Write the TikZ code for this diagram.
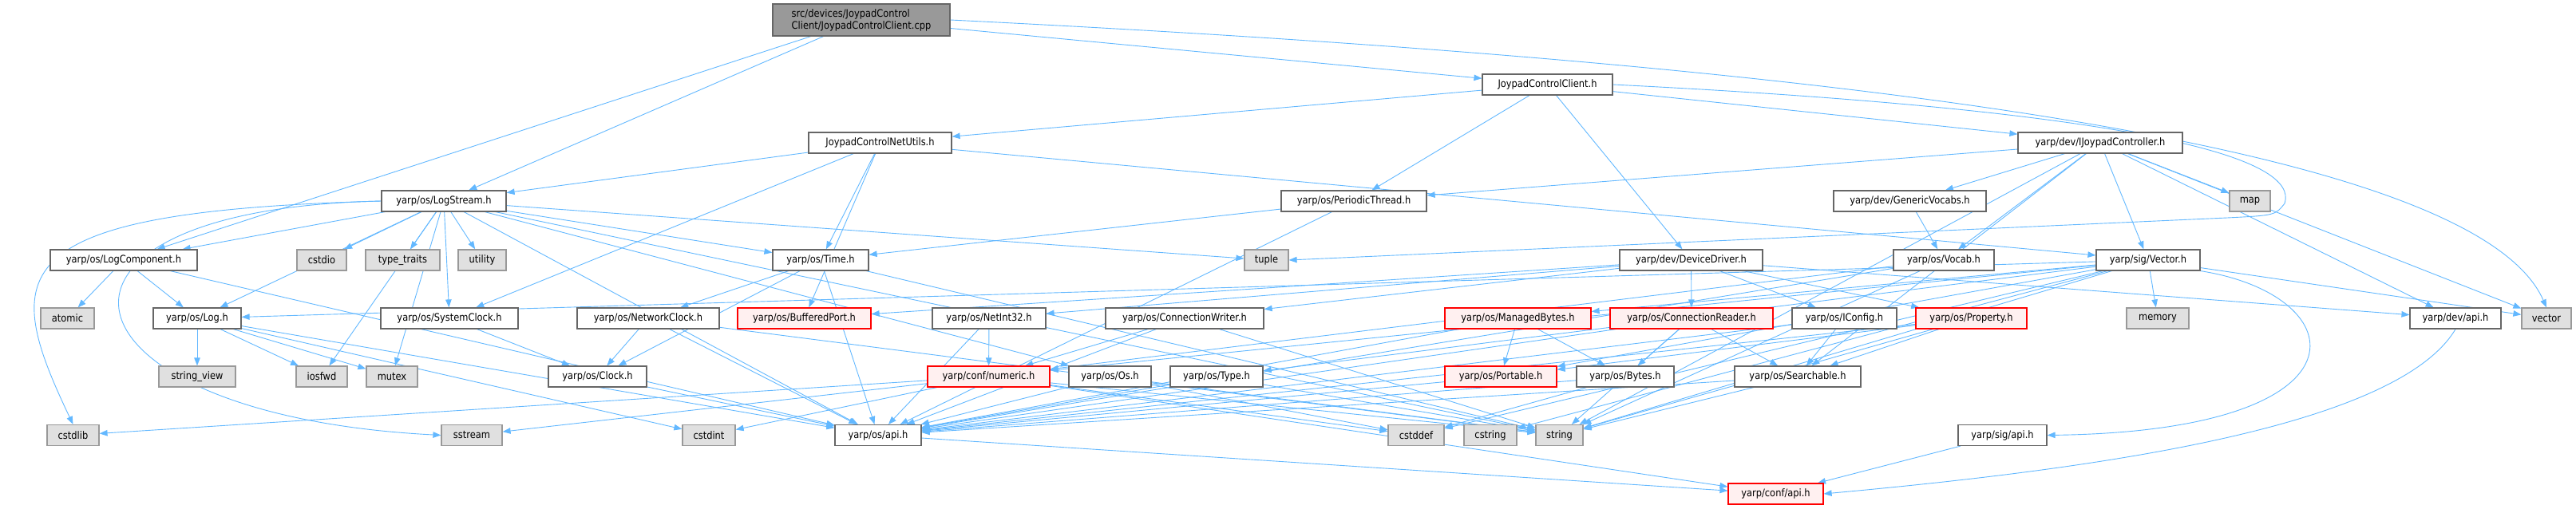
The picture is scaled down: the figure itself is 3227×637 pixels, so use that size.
\documentclass[tikz,border=0pt]{standalone}
\usepackage{fontspec}
\setmainfont{DejaVu Sans}[FakeStretch=0.88]
\usetikzlibrary{arrows.meta}
\definecolor{edgeblue}{HTML}{63B8FF}
\definecolor{boxline}{HTML}{666666}
\definecolor{sysfill}{HTML}{E0E0E0}
\definecolor{sysline}{HTML}{999999}
\definecolor{truncfill}{HTML}{FFF0F0}
\definecolor{rootfill}{HTML}{999999}
\pgfdeclarelayer{edges}
\pgfsetlayers{edges,main}

\tikzset{
  hdr/.style={draw=boxline, fill=white, line width=1.2pt, minimum height=26, inner sep=0pt,
    font=\fontsize{13}{15}\selectfont},
  sys/.style={hdr, draw=sysline, fill=sysfill},
  trunc/.style={hdr, draw=red, fill=truncfill},
  dep/.style={draw=edgeblue, line width=0.9pt, -{Triangle[length=10pt,width=7.5pt]}},
}

\begin{document}
\begin{tikzpicture}[x=1pt, y=-1pt]
  \useasboundingbox (0,0) rectangle (3227,637);

  % rows 1-4
  \node[hdr, fill=rootfill, minimum width=222, minimum height=40, align=left] (root) at (1079,25)
    {src/devices/JoypadControl\\Client/JoypadControlClient.cpp};
  \node[hdr, minimum width=163] (jcc) at (1938.5,106) {JoypadControlClient.h};
  \node[hdr, minimum width=179] (netutils) at (1102.5,179) {JoypadControlNetUtils.h};
  \node[hdr, minimum width=206] (ijoy) at (2631,179) {yarp/dev/IJoypadController.h};
  \node[hdr, minimum width=156] (logstream) at (556,252) {yarp/os/LogStream.h};
  \node[hdr, minimum width=182] (periodic) at (1696,252) {yarp/os/PeriodicThread.h};
  \node[hdr, minimum width=191] (genvocabs) at (2392.5,252) {yarp/dev/GenericVocabs.h};
  \node[sys, minimum width=51] (map) at (2818.5,252) {map};

  % row 5
  \node[hdr, minimum width=184] (logcomp) at (155,326) {yarp/os/LogComponent.h};
  \node[sys, minimum width=62] (cstdio) at (403,326) {cstdio};
  \node[sys, minimum width=93] (typetraits) at (504.5,326) {type\_traits};
  \node[sys, minimum width=60] (utility) at (604,326) {utility};
  \node[hdr, minimum width=120] (time) at (1028,326) {yarp/os/Time.h};
  \node[sys, minimum width=55] (tuple) at (1586.5,326) {tuple};
  \node[hdr, minimum width=179] (devdriver) at (2118.5,326) {yarp/dev/DeviceDriver.h};
  \node[hdr, minimum width=126] (vocab) at (2435,326) {yarp/os/Vocab.h};
  \node[hdr, minimum width=130] (sigvector) at (2691,326) {yarp/sig/Vector.h};

  % row 6
  \node[sys, minimum width=67] (atomic) at (84.5,399) {atomic};
  \node[hdr, minimum width=110] (log) at (247,399) {yarp/os/Log.h};
  \node[hdr, minimum width=172] (sysclock) at (563,399) {yarp/os/SystemClock.h};
  \node[hdr, minimum width=178] (netclock) at (812,399) {yarp/os/NetworkClock.h};
  \node[trunc, minimum width=167] (bufport) at (1007.5,399) {yarp/os/BufferedPort.h};
  \node[hdr, minimum width=142] (netint) at (1239,399) {yarp/os/NetInt32.h};
  \node[hdr, minimum width=198] (connwriter) at (1484,399) {yarp/os/ConnectionWriter.h};
  \node[trunc, minimum width=183] (managed) at (1901.5,399) {yarp/os/ManagedBytes.h};
  \node[trunc, minimum width=204] (connreader) at (2119,399) {yarp/os/ConnectionReader.h};
  \node[hdr, minimum width=131] (iconfig) at (2310.5,399) {yarp/os/IConfig.h};
  \node[trunc, minimum width=139] (property) at (2469.5,399) {yarp/os/Property.h};
  \node[sys, minimum width=78] (memory) at (2703,399) {memory};
  \node[hdr, minimum width=114] (devapi) at (3076,399) {yarp/dev/api.h};
  \node[sys, minimum width=62] (vector) at (3190,399) {vector};

  % row 7
  \node[sys, minimum width=96] (stringview) at (247,472) {string\_view};
  \node[sys, minimum width=64] (iosfwd) at (403,472) {iosfwd};
  \node[sys, minimum width=64] (mutex) at (491,472) {mutex};
  \node[hdr, minimum width=123] (clock) at (748.5,472) {yarp/os/Clock.h};
  \node[trunc, minimum width=153] (numeric) at (1238.5,472) {yarp/conf/numeric.h};
  \node[hdr, minimum width=103] (os) at (1390.5,472) {yarp/os/Os.h};
  \node[hdr, minimum width=116] (type) at (1524,472) {yarp/os/Type.h};
  \node[trunc, minimum width=140] (portable) at (1880,472) {yarp/os/Portable.h};
  \node[hdr, minimum width=122] (bytes) at (2036,472) {yarp/os/Bytes.h};
  \node[hdr, minimum width=158] (searchable) at (2252,472) {yarp/os/Searchable.h};

  % rows 8-9
  \node[sys, minimum width=65] (cstdlib) at (91.5,545.5) {cstdlib};
  \node[sys, minimum width=76] (sstream) at (591,545.5) {sstream};
  \node[sys, minimum width=66] (cstdint) at (888,545.5) {cstdint};
  \node[hdr, minimum width=108] (osapi) at (1100,545.5) {yarp/os/api.h};
  \node[sys, minimum width=70] (cstddef) at (1774,545.5) {cstddef};
  \node[sys, minimum width=66] (cstring) at (1867,545.5) {cstring};
  \node[sys, minimum width=59] (string) at (1953.5,545.5) {string};
  \node[hdr, minimum width=111] (sigapi) at (2508.5,545.5) {yarp/sig/api.h};
  \node[trunc, minimum width=119] (confapi) at (2224.5,619) {yarp/conf/api.h};

  % include edges, kept under the boxes
  \begin{pgfonlayer}{edges}
  \foreach \a/\b in {root/jcc, root/logstream, root/logcomp,
      jcc/netutils, jcc/periodic, jcc/devdriver, jcc/ijoy,
      netutils/logstream, netutils/sysclock, netutils/time, netutils/bufport, netutils/sigvector,
      ijoy/periodic, ijoy/genvocabs, ijoy/vocab, ijoy/sigvector, ijoy/map, ijoy/devapi,
      ijoy/vector, ijoy/string, ijoy/searchable, genvocabs/vocab,
      logstream/logcomp, logstream/log, logstream/cstdio, logstream/typetraits, logstream/utility,
      logstream/iosfwd, logstream/mutex, logstream/sysclock, logstream/time, logstream/os,
      logstream/tuple, logstream/string, logstream/osapi,
      periodic/time, periodic/osapi,
      logcomp/atomic, logcomp/log, logcomp/osapi,
      log/stringview, log/iosfwd, log/mutex, log/osapi, log/cstdint,
      time/netclock, time/clock, time/osapi, time/string,
      sysclock/clock, netclock/clock, netclock/osapi, netclock/string, clock/osapi,
      netint/numeric, netint/osapi, connwriter/numeric, connwriter/osapi, connwriter/string,
      numeric/confapi, numeric/cstdint, numeric/cstdlib, numeric/sstream, numeric/cstddef, numeric/string,
      os/osapi, os/string, os/cstddef, type/osapi, type/string,
      managed/portable, managed/bytes, managed/osapi,
      connreader/bytes, connreader/searchable, connreader/string, connreader/osapi,
      devdriver/connreader, devdriver/iconfig, devdriver/property, devdriver/devapi,
      devdriver/netint, devdriver/connwriter, devdriver/bufport,
      iconfig/searchable, iconfig/osapi,
      property/portable, property/searchable, property/string, property/osapi,
      portable/osapi, bytes/osapi, bytes/cstddef, searchable/osapi, searchable/string,
      vocab/numeric, vocab/osapi, vocab/string,
      sigvector/log, sigvector/managed, sigvector/type, sigvector/portable, sigvector/numeric,
      sigvector/memory, sigvector/vector, sigvector/string, sigvector/cstring, sigvector/cstddef,
      osapi/confapi, sigapi/confapi}
    \draw[dep] (\a) -- (\b);

  % routed edges
  \draw[dep] (root.east) .. controls (2300,80) and (3100,180) .. (vector.north);
  \draw[dep] (jcc.east) .. controls (2700,140) and (2880,200) .. (2862,255)
    .. controls (2850,270) .. (2790,273) -- (tuple.east);
  \draw[dep] (logstream.west) .. controls (0,265) and (0,340) .. (cstdlib.north);
  \draw[dep] (logstream.west) .. controls (0,262) and (60,520) .. (sstream.west);
  \draw[dep] (sigvector.south east) .. controls (2950,370) and (2980,540) .. (sigapi.east);
  \draw[dep] (devapi.south) .. controls (3000,540) and (2600,590) .. (confapi.east);
  \end{pgfonlayer}
\end{tikzpicture}
\end{document}
